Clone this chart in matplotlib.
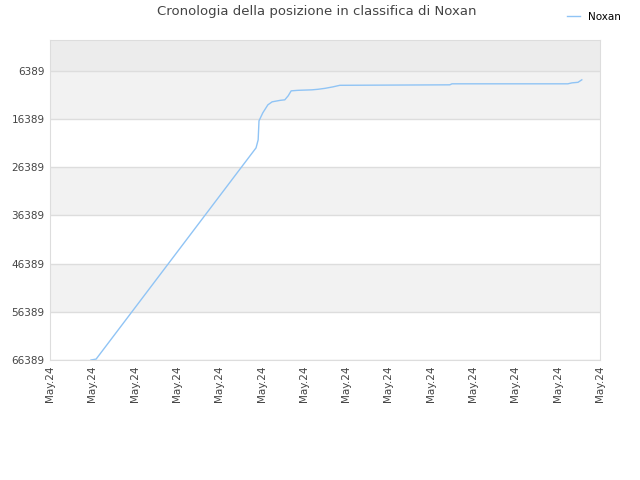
import matplotlib
matplotlib.use("Agg")
import matplotlib.pyplot as plt
import numpy as np

# position over time (x in tick units, 14 ticks all labelled May.24)
x_pos = [0.97, 1.09, 4.87, 4.92, 4.94, 5.03, 5.15, 5.25, 5.44, 5.55, 5.63, 5.70,
         5.86, 6.19, 6.33, 6.50, 6.69, 6.85, 9.45, 9.50, 12.24, 12.34, 12.48, 12.57]
rank = [66389, 66200, 22380, 20720, 16770, 15110, 13450, 12830, 12520, 12410, 11580, 10550,
        10440, 10340, 10230, 10030, 9720, 9400, 9300, 9090, 9090, 8890, 8780, 8260]
x_labels = ["May.24"] * 14
y_ticks = [6389, 16389, 26389, 36389, 46389, 56389, 66389]

fig = plt.figure(figsize=(6.4, 4.8), dpi=100)
ax = fig.add_axes([50 / 640, 1 - 360 / 480, 550 / 640, 320 / 480])

# alternating background bands
bands = [0] + y_ticks
shades = ["#ececec", "#f2f2f2", "#ffffff", "#f2f2f2", "#ffffff", "#f2f2f2", "#ffffff"]
for i in range(len(bands) - 1):
    ax.axhspan(bands[i], bands[i + 1], color=shades[i], zorder=0, lw=0)
for t in y_ticks:
    ax.axhline(t, color="#dddddd", lw=1, zorder=1)

ax.plot(x_pos, rank, color="#90c4f5", lw=1, label="Noxan", zorder=2)

ax.set_xlim(0, 13)
ax.set_ylim(66389, 0)
ax.set_xticks(np.arange(14))
ax.set_xticklabels(x_labels, rotation=90, fontsize=7.5, color="#444444")
ax.set_yticks(y_ticks)
ax.set_yticklabels([str(t) for t in y_ticks], fontsize=7.5, color="#444444")
ax.tick_params(length=0, pad=4)
for s in ax.spines.values():
    s.set_color("#dddddd")

fig.text(0.495, 0.975, "Cronologia della posizione in classifica di Noxan",
         ha="center", va="center", fontsize=9.5, color="#444444")
fig.legend(loc="upper right", bbox_to_anchor=(0.985, 0.995), frameon=False,
           fontsize=7.5, handlelength=1.2)

fig.savefig("out.png", dpi=100)
